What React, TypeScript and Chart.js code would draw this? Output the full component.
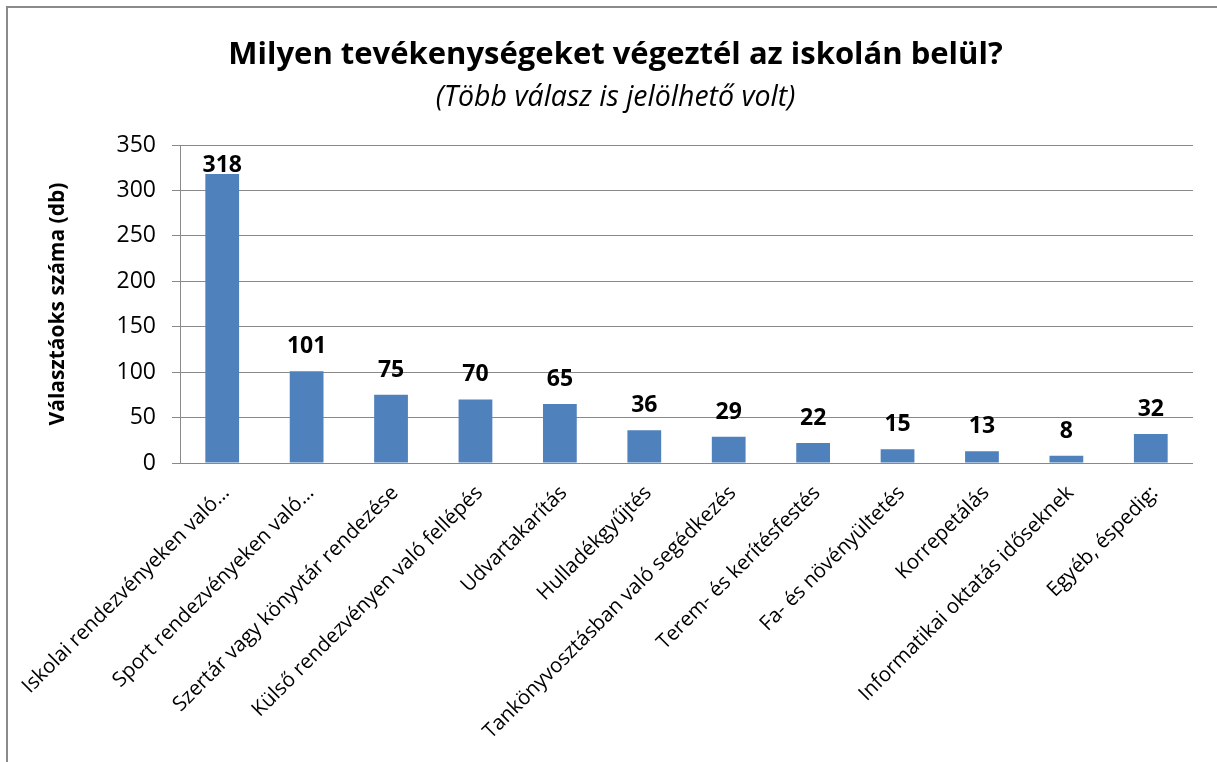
import React, { useEffect, useRef } from "react";
import { Chart, registerables } from "chart.js";

Chart.register(...registerables);

const titleText = "Milyen tevékenységeket végeztél az iskolán belül?";
const subtitleText = "(Több válasz is jelölhető volt)";
const yAxisTitle = "Választáoks száma (db)";

const categories = [
  "Iskolai rendezvényeken való…",
  "Sport rendezvényeken való…",
  "Szertár vagy könyvtár rendezése",
  "Külső rendezvényen való fellépés",
  "Udvartakarítás",
  "Hulladékgyűjtés",
  "Tankönyvosztásban való segédkezés",
  "Terem- és kerítésfestés",
  "Fa- és növényültetés",
  "Korrepetálás",
  "Informatikai oktatás időseknek",
  "Egyéb, éspedig:",
];

const values = [318, 101, 75, 70, 65, 36, 29, 22, 15, 13, 8, 32];

const yMin = 0;
const yMax = 350;
const yStep = 50;

const FONT = "'Open Sans', sans-serif";
const BAR = "#4F81BD";
const GRID = "#898989";

const titlesPlugin = {
  id: "titlesPlugin",
  afterDraw(chart: any) {
    const ctx = chart.ctx;
    const cx = chart.width / 2 + 3;
    ctx.save();
    ctx.fillStyle = "#000";
    ctx.textAlign = "center";
    ctx.textBaseline = "middle";
    ctx.font = `bold 31px ${FONT}`;
    ctx.fillText(titleText, cx, 47);
    ctx.font = `italic 28.5px ${FONT}`;
    ctx.fillText(subtitleText, cx, 90);
    ctx.restore();
  },
};

const dataLabelPlugin = {
  id: "dataLabelPlugin",
  afterDatasetsDraw(chart: any) {
    const ctx = chart.ctx;
    const meta = chart.getDatasetMeta(0);
    const top = chart.chartArea.top;
    ctx.save();
    ctx.fillStyle = "#000";
    ctx.textAlign = "center";
    ctx.textBaseline = "alphabetic";
    ctx.font = `bold 23px ${FONT}`;
    meta.data.forEach((bar: any, i: number) => {
      const y = Math.max(bar.y - 18, top + 27);
      ctx.fillText(String(values[i]), bar.x, y);
    });
    ctx.restore();
  },
};

export default function App() {
  const ref = useRef<HTMLCanvasElement | null>(null);

  useEffect(() => {
    if (!ref.current) return;
    const chart = new Chart(ref.current, {
      type: "bar",
      data: {
        labels: categories,
        datasets: [
          {
            data: values,
            backgroundColor: BAR,
            borderWidth: 0,
            barPercentage: 0.4,
            categoryPercentage: 1.0,
          },
        ],
      },
      options: {
        animation: false,
        responsive: false,
        maintainAspectRatio: false,
        events: [],
        layout: { padding: { top: 137, right: 24, bottom: 0, left: 0 } },
        plugins: {
          legend: { display: false },
          title: { display: false },
          tooltip: { enabled: false },
        },
        scales: {
          x: {
            grid: { display: false },
            border: { display: false },
            ticks: {
              autoSkip: false,
              minRotation: 45,
              maxRotation: 45,
              color: "#000",
              padding: 10,
              labelOffset: 4,
              font: { family: FONT, size: 20.5 },
            },
            afterFit(scale: any) {
              scale.height = 299;
              scale.paddingLeft = 0;
              scale.paddingRight = 0;
            },
          },
          y: {
            min: yMin,
            max: yMax,
            ticks: {
              stepSize: yStep,
              color: "#000",
              padding: 16,
              font: { family: FONT, size: 23 },
            },
            grid: {
              color: GRID,
              lineWidth: 1,
              tickLength: 8,
              drawTicks: true,
            },
            border: { display: true, color: GRID, width: 1 },
            title: {
              display: true,
              text: yAxisTitle,
              color: "#000",
              font: { family: FONT, size: 21, weight: "bold" },
              padding: { top: 37, bottom: 0 },
            },
            afterFit(scale: any) {
              scale.width = 172;
              scale.paddingTop = 0;
              scale.paddingBottom = 0;
            },
          },
        },
      },
      plugins: [titlesPlugin, dataLabelPlugin],
    });
    return () => chart.destroy();
  }, []);

  return (
    <div
      style={{
        position: "fixed",
        left: 6,
        top: 6,
        width: 1209,
        height: 754,
        borderLeft: "2px solid #8a8a8a",
        borderTop: "2px solid #8a8a8a",
        background: "#fff",
      }}
    >
      <canvas ref={ref} width={1209} height={754} style={{ display: "block" }} />
    </div>
  );
}
